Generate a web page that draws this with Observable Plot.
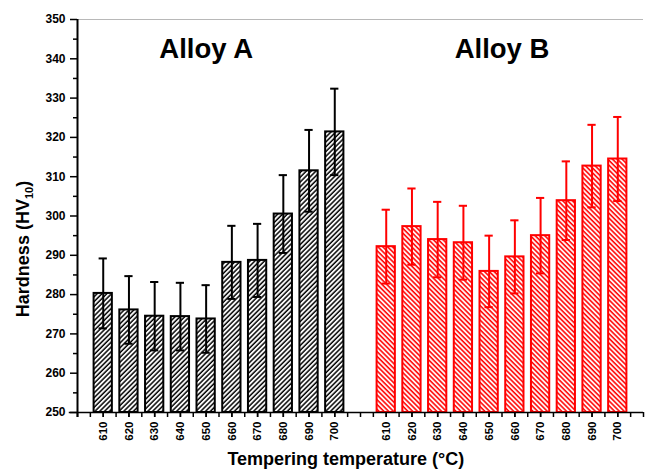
<!DOCTYPE html>
<html>
<head>
<meta charset="utf-8">
<script src="https://cdn.jsdelivr.net/npm/d3@7"></script>
<script src="https://cdn.jsdelivr.net/npm/@observablehq/plot@0.6"></script>
<style>
  html, body { margin: 0; padding: 0; background: #fff; }
  svg { display: block; }
</style>
</head>
<body>
<div id="chart"></div>
<script>
// ---- data ----
const temps = [610, 620, 630, 640, 650, 660, 670, 680, 690, 700];
const alloyA = [280.3, 276.1, 274.5, 274.4, 273.8, 288.2, 288.7, 300.5, 311.5, 321.4];
const errA   = [8.9, 8.6, 8.7, 8.6, 8.6, 9.3, 9.3, 9.9, 10.4, 11.0];
const alloyB = [292.2, 297.3, 294.0, 293.2, 285.9, 289.6, 295.0, 303.9, 312.7, 314.5];
const errB   = [9.4, 9.7, 9.6, 9.4, 9.1, 9.3, 9.6, 10.0, 10.5, 10.7];
const groups = ["Alloy A", "Alloy B"];
const yTicks = [250, 260, 270, 280, 290, 300, 310, 320, 330, 340, 350];

// build table: group A in slots 0..9, gap slot 10, group B in slots 11..20
const rows = [];
temps.forEach((t, i) => rows.push({group: "A", temp: t, slot: i, v: alloyA[i], e: errA[i]}));
temps.forEach((t, i) => rows.push({group: "B", temp: t, slot: i + 11, v: alloyB[i], e: errB[i]}));
const slotLabel = new Map(rows.map(d => [d.slot, String(d.temp)]));
const colorOf = g => g === "A" ? "#000000" : "#ff0000";
const halfW = 0.355, capW = 0.16;
const halfTicks = d3.range(-1, 21.01, 0.5);
const font = "'Liberation Sans', Arial, sans-serif";

const chart = Plot.plot({
  width: 646,
  height: 471,
  marginLeft: 77,
  marginRight: 3,
  marginTop: 19,
  marginBottom: 59,
  style: {background: "#fff", fontFamily: font},
  x: {type: "linear", domain: [-1, 21]},
  y: {domain: [250, 350]},
  marks: [
    // top frame line
    Plot.ruleY([350], {x1: -1, x2: 21, stroke: "#b8b8b8", strokeWidth: 1}),
    // bars
    Plot.rect(rows, {
      x1: d => d.slot - halfW, x2: d => d.slot + halfW,
      y1: 250, y2: "v",
      fill: d => d.group === "A" ? "url(#hatchA)" : "url(#hatchB)",
      stroke: d => colorOf(d.group), strokeWidth: 2
    }),
    // error bars
    Plot.ruleX(rows, {x: "slot", y1: d => d.v - d.e, y2: d => d.v + d.e, stroke: d => colorOf(d.group), strokeWidth: 2}),
    Plot.ruleY(rows, {y: d => d.v + d.e, x1: d => d.slot - capW, x2: d => d.slot + capW, stroke: d => colorOf(d.group), strokeWidth: 2}),
    Plot.ruleY(rows, {y: d => d.v - d.e, x1: d => d.slot - capW, x2: d => d.slot + capW, stroke: d => colorOf(d.group), strokeWidth: 2}),
    // axes
    Plot.axisY({ticks: yTicks, tickSize: 7, tickPadding: 5, tickFormat: d => String(d), fontSize: 12, fontWeight: "bold", label: null, strokeWidth: 1.5}),
    Plot.axisY({ticks: d3.range(255, 350, 10), tickSize: 4, tickFormat: () => "", label: null, strokeWidth: 1.5}),
    Plot.axisX({ticks: halfTicks, tickSize: 5, tickFormat: () => "", label: null, strokeWidth: 1.5}),
    Plot.axisX({ticks: rows.map(d => d.slot), tickSize: 5, tickPadding: 4, tickRotate: -90,
      tickFormat: d => slotLabel.get(d) ?? "", fontSize: 11.5, fontWeight: "bold", label: null, strokeWidth: 1.5}),
    Plot.ruleX([-1], {y1: 248.7, y2: 350, stroke: "#000", strokeWidth: 2}),
    Plot.ruleY([250], {x1: -1.32, x2: 21, stroke: "#000", strokeWidth: 1.5}),
    // group titles
    Plot.text([{g: groups[0], s: 4.0}, {g: groups[1], s: 15.5}], {
      x: "s", y: 340.2, text: "g", lineAnchor: "bottom",
      fontSize: 27.5, fontWeight: "bold", fill: "#000"
    }),
    // x axis title
    Plot.text(["Tempering temperature (°C)"], {
      frameAnchor: "bottom", dy: 52, lineAnchor: "bottom", x: 9.43,
      fontSize: 18, fontWeight: "bold", fill: "#000"
    })
  ]
});

const svg = d3.select(chart);
const defs = svg.insert("defs", ":first-child");
function hatch(id, color, angle, sw) {
  const p = defs.append("pattern")
    .attr("id", id).attr("patternUnits", "userSpaceOnUse")
    .attr("width", 3.4).attr("height", 10)
    .attr("patternTransform", `rotate(${angle})`);
  p.append("rect").attr("width", 3.4).attr("height", 10).attr("fill", "#fff");
  p.append("line").attr("x1", 1).attr("x2", 1).attr("y1", -1).attr("y2", 11)
    .attr("stroke", color).attr("stroke-width", sw);
}
hatch("hatchA", "#000", 45, 1.5);
hatch("hatchB", "#ff0000", -45, 1.6);

// y-axis title with subscript
const yl = svg.append("text")
  .attr("transform", "translate(29,249) rotate(-90)")
  .attr("text-anchor", "middle")
  .attr("font-family", font)
  .attr("font-size", 18)
  .attr("font-weight", "bold")
  .attr("fill", "#000");
yl.append("tspan").text("Hardness (HV");
yl.append("tspan").attr("font-size", 11).attr("dy", 4).text("10");
yl.append("tspan").attr("dy", -4).text(")");

document.getElementById("chart").appendChild(chart);
</script>
</body>
</html>
